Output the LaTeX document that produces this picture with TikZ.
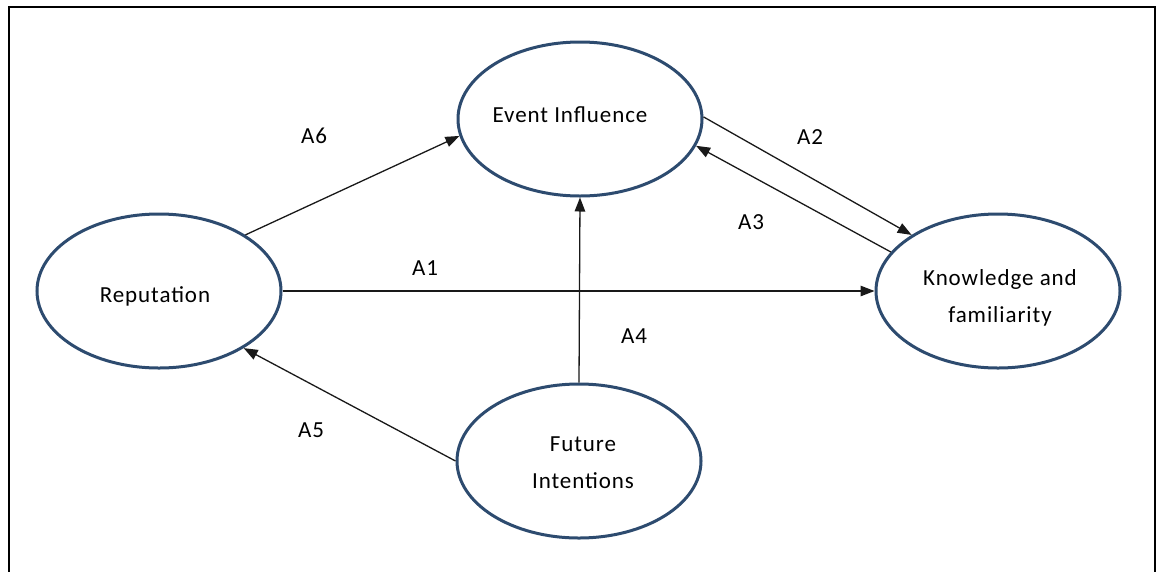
\documentclass[tikz,border=0pt]{standalone}
\usepackage{fontspec}
\setmainfont[LetterSpace=4]{Carlito}
\usetikzlibrary{arrows.meta,shapes.geometric}
\definecolor{ringblue}{HTML}{2D4B6F}
\begin{document}
\begin{tikzpicture}[x=1pt,y=-1pt,
  construct/.style={ellipse, draw=ringblue, line width=3pt, minimum width=244pt,
    minimum height=154pt, inner sep=0pt},
  caption/.style={align=center, inner sep=0pt, font=\fontsize{23}{37}\selectfont},
  link/.style={draw=black!90, line width=1.3pt,
    -{Triangle[length=14pt,width=10.5pt]}},
  tag/.style={font=\fontsize{23}{28}\selectfont}]
\useasboundingbox (0,0) rectangle (1156,571);
% open frame
\draw[line width=2pt] (9,580) -- (9,7) -- (1155,7) -- (1155,580);

% constructs
\node[construct] (event) at (580,119) {};
\node[construct] (rep)   at (159,291) {};
\node[construct] (know)  at (998,291) {};
\node[construct] (fut)   at (579,461) {};

% construct names
\node[caption] (eventname) at (570,115) {Event Influence};
\node[caption] (repname)   at (155,296) {Reputation};
\node[caption] (knowname)  at (1000,298) {Knowledge and\\familiarity};
\node[caption] (futname)   at (583,463) {Future\\Intentions};

% hypothesised paths
\draw[link] (rep.33)    -- (event.188);
\draw[link] (event.1)   -- (know.147);
\draw[link] (know.160)  -- (event.-13);
\draw[link] (rep.east)  -- (know.west);
\draw[link] (fut.north) -- (event.south);
\draw[link] (fut.180)   -- (rep.-34);

% path labels
\node[tag] (a6) at (314,136) {A6};
\node[tag] (a2) at (810,137) {A2};
\node[tag] (a3) at (751,222) {A3};
\node[tag] (a1) at (425,268) {A1};
\node[tag] (a4) at (634,336) {A4};
\node[tag] (a5) at (311,430) {A5};
\end{tikzpicture}
\end{document}
